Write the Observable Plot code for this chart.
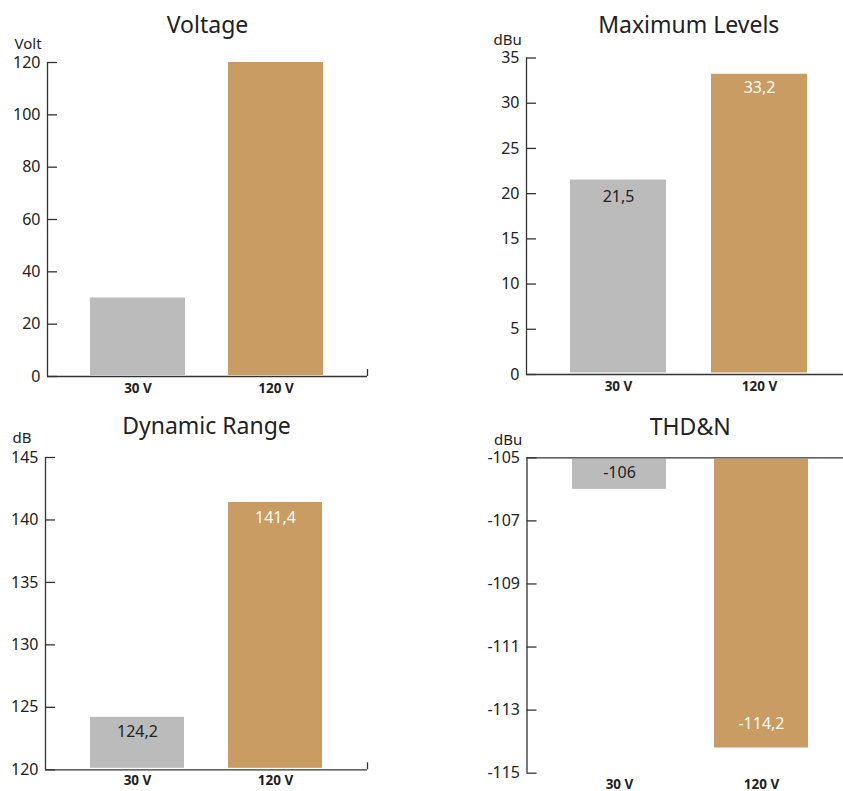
<!DOCTYPE html>
<html>
<head>
<meta charset="utf-8">
<script src="https://cdn.jsdelivr.net/npm/d3@7"></script>
<script src="https://cdn.jsdelivr.net/npm/@observablehq/plot@0.6"></script>
<style>
  body { margin: 0; background: #fff; overflow: hidden; }
  #wrap { position: relative; width: 843px; height: 791px; font-family: "Noto Sans", sans-serif; }
  .panel { position: absolute; }
</style>
</head>
<body>
<div id="wrap"></div>
<script>
// Supply voltage variants
const categories = ["30 V", "120 V"];

// Measured values per variant
const voltage = [30, 120];
const maxLevels = [21.5, 33.2];
const dynamicRange = [124.2, 141.4];
const thdN = [-106, -114.2];

// Axis ticks
const voltageTicks = [0, 20, 40, 60, 80, 100, 120];
const levelTicks = [0, 5, 10, 15, 20, 25, 30, 35];
const rangeTicks = [120, 125, 130, 135, 140, 145];
const thdTicks = [-105, -107, -109, -111, -113, -115];

const GRAY = "#bbbbbb";
const GOLD = "#c89c62";
const INK = "#222222";
const AXIS = "#333333";
const FONT = '"Noto Sans", sans-serif';

const fmt = v => String(v).replace(".", ",");

function panel(cfg) {
  const {left, top, width, height, ml, mr, mt, mb, range, padIn, padOut,
         domain, ticks, base, values, title, unit, titleDy, unitDy,
         labels, labelDy, endTick, xLabelDy, barInsetTop = 0, barInsetBottom = 0} = cfg;
  const fw = width - ml - mr;
  const fh = height - mt - mb;
  const rows = categories.map((cat, i) => ({cat, value: values[i]}));
  const titleDx = (range[0] + range[1]) / 2 - (ml + width - mr) / 2;

  const marks = [
    Plot.barY(rows, {x: "cat", y1: base, y2: "value", fill: "cat",
                     insetTop: barInsetTop, insetBottom: barInsetBottom}),
    // baseline
    Plot.ruleY([base], {stroke: AXIS, strokeWidth: 1.3}),
    // vertical axis line
    Plot.ruleX([0], {x: null, dx: -fw / 2, stroke: AXIS, strokeWidth: 1.3}),
    // inward tick marks
    Plot.tickY(ticks, {y: d => d, insetRight: fw - 10, stroke: AXIS, strokeWidth: 1.3}),
    // category labels
    Plot.text(categories, {x: d => d, frameAnchor: "bottom", lineAnchor: "middle", dy: xLabelDy,
                           fontWeight: "bold", fontSize: 13.5, fill: INK}),
    // title
    Plot.text([title], {frameAnchor: "top", lineAnchor: "middle", dx: titleDx, dy: titleDy,
                        fontSize: 23, fill: INK}),
    // unit
    Plot.text([unit], {frameAnchor: "top-left", lineAnchor: "middle", textAnchor: "start",
                       dx: -33, dy: unitDy, fontSize: 15, fill: INK})
  ];

  if (endTick) {
    marks.push(Plot.ruleX([0], {x: null, dx: fw / 2, insetTop: fh - 7, stroke: AXIS, strokeWidth: 1.3}));
  }

  if (labels) {
    marks.push(Plot.text(rows, {filter: d => d.cat === categories[0], x: "cat", y: "value",
                                text: d => fmt(d.value), dy: labelDy[0], fontSize: 16, fill: INK}));
    marks.push(Plot.text(rows, {filter: d => d.cat === categories[1], x: "cat", y: "value",
                                text: d => fmt(d.value), dy: labelDy[1], fontSize: 16, fill: "#fffaf2"}));
  }

  const chart = Plot.plot({
    width, height,
    marginLeft: ml, marginRight: mr, marginTop: mt, marginBottom: mb,
    x: {domain: categories, range, paddingInner: padIn, paddingOuter: padOut, axis: null},
    y: {domain, ticks, tickSize: 0, tickPadding: 7, tickFormat: d => String(d), label: null},
    color: {domain: categories, range: [GRAY, GOLD]},
    style: {fontFamily: FONT, fontSize: "16px", color: INK, background: "transparent", overflow: "visible"},
    marks
  });
  const div = document.createElement("div");
  div.className = "panel";
  div.style.left = left + "px";
  div.style.top = top + "px";
  div.appendChild(chart);
  document.getElementById("wrap").appendChild(div);
}

panel({
  left: 0, top: 0, width: 420, height: 400,
  ml: 47, mr: 53, mt: 62, mb: 24,
  range: [47, 367], padIn: 0.31, padOut: 0.31,
  domain: [0, 120], ticks: voltageTicks, base: 0, values: voltage,
  title: "Voltage", unit: "Volt", titleDy: -37, unitDy: -18,
  labels: false, endTick: true, xLabelDy: 12, barInsetBottom: 1
});

panel({
  left: 420, top: 0, width: 423, height: 400,
  ml: 106, mr: 0, mt: 57.5, mb: 26,
  range: [106, 430.5], padIn: 0.32, padOut: 0.31,
  domain: [0, 35], ticks: levelTicks, base: 0, values: maxLevels,
  title: "Maximum Levels", unit: "dBu", titleDy: -32.5, unitDy: -18,
  labels: true, labelDy: [17, 14], endTick: false, xLabelDy: 12, barInsetBottom: 1.5
});

panel({
  left: 0, top: 400, width: 420, height: 391,
  ml: 45, mr: 53, mt: 57, mb: 21.7,
  range: [45, 367], padIn: 0.32, padOut: 0.32,
  domain: [120, 145], ticks: rangeTicks, base: 120, values: dynamicRange,
  title: "Dynamic Range", unit: "dB", titleDy: -30.5, unitDy: -19,
  labels: true, labelDy: [15, 15], endTick: true, xLabelDy: 11, barInsetBottom: 1.5
});

panel({
  left: 420, top: 400, width: 423, height: 391,
  ml: 106.5, mr: 0, mt: 57.3, mb: 18.3,
  range: [106.5, 433], padIn: 0.336, padOut: 0.31,
  domain: [-115, -105], ticks: thdTicks, base: -105, values: thdN,
  title: "THD&N", unit: "dBu", titleDy: -30.5, unitDy: -17.5,
  labels: true, labelDy: [-16, -24], endTick: false, xLabelDy: 11.5, barInsetTop: 1.5
});
</script>
</body>
</html>
